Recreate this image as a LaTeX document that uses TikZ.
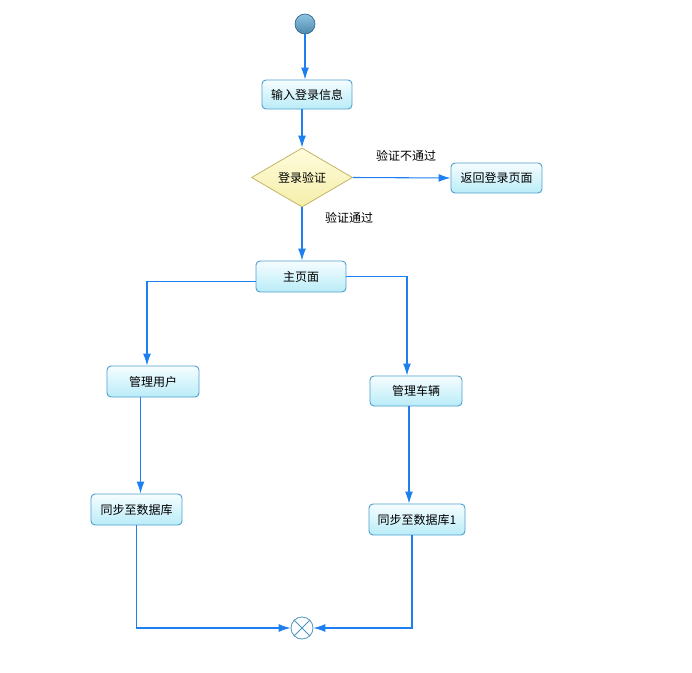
\documentclass[tikz,border=0pt]{standalone}
\usepackage{fontspec}
\newfontfamily\cjk{Noto Sans CJK SC}
\usetikzlibrary{shapes.geometric,arrows.meta}
\definecolor{lineblue}{RGB}{30,128,240}
\definecolor{boxborder}{RGB}{80,160,205}
\definecolor{boxtop}{RGB}{246,253,255}
\definecolor{boxbot}{RGB}{185,236,248}
\definecolor{diatop}{RGB}{255,252,220}
\definecolor{diabot}{RGB}{245,238,170}
\definecolor{diaborder}{RGB}{195,180,100}
\definecolor{startblue}{RGB}{95,170,215}
\definecolor{startborder}{RGB}{45,100,140}
\definecolor{joinborder}{RGB}{80,150,190}
\begin{document}
\begin{tikzpicture}[x=0.75pt,y=-0.75pt,
  font=\cjk\fontsize{9}{11}\selectfont,
  box/.style={draw=boxborder, line width=0.7pt, rounded corners=3pt,
    top color=boxtop, bottom color=boxbot, inner sep=0pt, text=black},
  dia/.style={diamond, draw=diaborder, line width=0.6pt,
    top color=diatop, bottom color=diabot, inner sep=0pt,
    minimum width=75.75pt, minimum height=44.25pt},
  startdot/.style={circle, draw=startborder, line width=0.5pt,
    top color=startblue!70!white, bottom color=startblue!80!black,
    minimum size=15pt, inner sep=0pt},
  joinnode/.style={circle, draw=joinborder, line width=0.6pt, fill=white,
    minimum size=16.5pt, inner sep=0pt},
  flow/.style={draw=lineblue, line width=0.8pt,
    -{Latex[length=9pt,width=6pt]}},
  lbl/.style={inner sep=1pt, text=black}
]
\useasboundingbox (0,0) rectangle (692,673);

\node[startdot] (start) at (305,24) {};
\node[box, minimum width=67.5pt, minimum height=21.75pt] (login) at (307,94.5) {输入登录信息};
\node[dia] (check) at (302,177.5) {登录验证};
\node[box, minimum width=68.25pt, minimum height=22.5pt] (back) at (496.5,178) {返回登录页面};
\node[box, minimum width=67.5pt, minimum height=23.25pt] (main) at (301,276.5) {主页面};
\node[box, minimum width=69pt, minimum height=23.25pt] (user) at (153,381.5) {管理用户};
\node[box, minimum width=69pt, minimum height=22.5pt] (car) at (416,391) {管理车辆};
\node[box, minimum width=68.25pt, minimum height=23.25pt] (sync) at (136.5,509.5) {同步至数据库};
\node[box, minimum width=72pt, minimum height=23.25pt] (sync1) at (417,519.5) {同步至数据库1};
\node[joinnode] (join) at (302,628) {};
\draw[joinborder, line width=0.6pt] (join.north west) -- (join.south east)
  (join.north east) -- (join.south west);

\node[lbl] (l1) at (406,156) {验证不通过};
\node[lbl] (l2) at (349,218) {验证通过};

\draw[flow] (start.south) -- (start.south |- login.north);
\draw[flow] (check.north |- login.south) -- (check.north);
\draw[flow] (check.east) -- (back.west);
\draw[flow] (check.south) -- (check.south |- main.north);
\draw[flow] ([yshift=-4pt]main.west) -| ([xshift=-4.5pt]user.north);
\draw[flow] (main.east) -| ([xshift=-6.75pt]car.north);
\draw[flow] ([xshift=3pt]sync.north |- user.south) -- ([xshift=3pt]sync.north);
\draw[flow] ([xshift=-5.25pt]car.south) -- ([xshift=-5.25pt]car.south |- sync1.north);
\draw[flow] (sync.south) |- (join.west);
\draw[flow] ([xshift=-3.75pt]sync1.south) |- (join.east);
\end{tikzpicture}
\end{document}
